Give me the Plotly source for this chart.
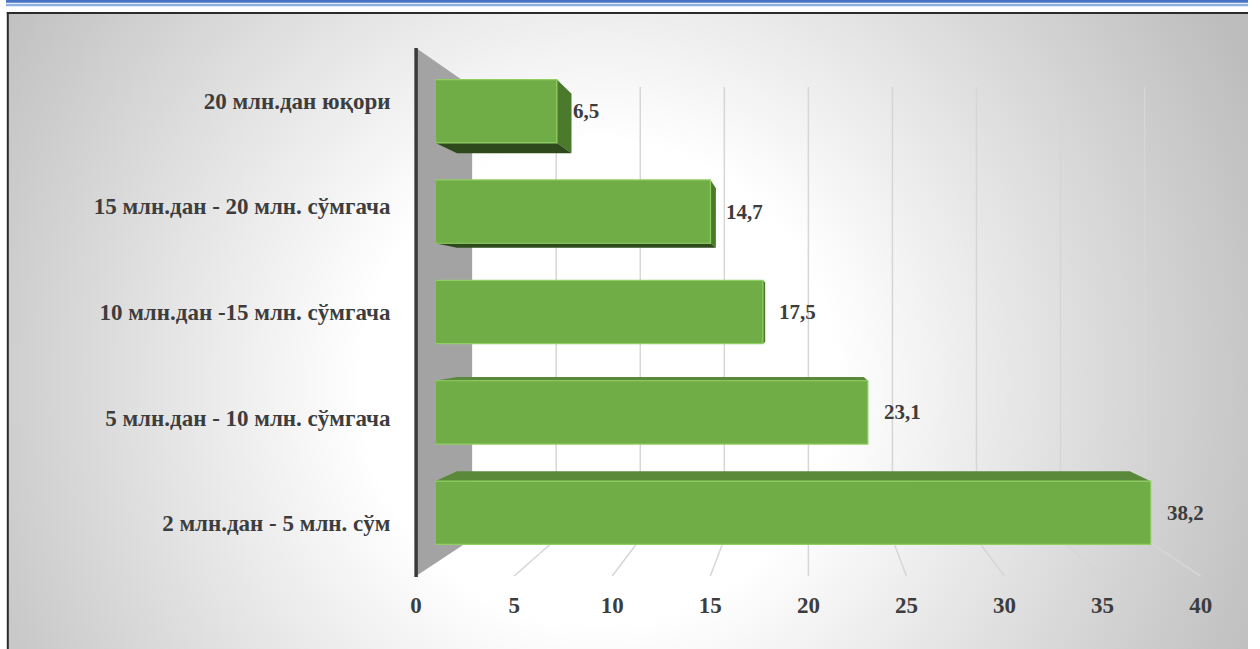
import base64
import plotly.graph_objects as go

# ---------------- data ----------------
categories = [
    "2 млн.дан - 5 млн. сўм",
    "5 млн.дан - 10 млн. сўмгача",
    "10 млн.дан -15 млн. сўмгача",
    "15 млн.дан - 20 млн. сўмгача",
    "20 млн.дан юқори",
]
values = [38.2, 23.1, 17.5, 14.7, 6.5]
value_labels = ["38,2", "23,1", "17,5", "14,7", "6,5"]
x_ticks = [0, 5, 10, 15, 20, 25, 30, 35, 40]

# ---------------- geometry (reference pixels) ----------------
W, H = 1260, 649
BAR_X0, BAR_SCALE = 435.0, 18.72          # bar front-face axis
BAR_Y_TOP, BAR_Y_BOT = 61.0, 563.0
FLOOR_X0, FLOOR_X1 = 416.0, 1200.0         # front floor axis
FLOOR_Y_TOP, FLOOR_Y_BOT = 48.0, 576.0
BACK_X0, BACK_SCALE = 472.0, 16.8          # back wall
BACK_Y_TOP, BACK_Y_BOT = 87.0, 539.0
VPX, VPY, DEPTH = 800.0, 317.0, 0.94
BAR_W = 0.63
XMAX = 40
# the photographed page comes out slightly narrowed horizontally; compensate
HX_SCALE, HX_OFF = 0.985, 6.2

def pxx(x):
    return ((x - HX_OFF) / HX_SCALE) / W

def pxy(y):
    return 1 - y / H

TXT = "#3d3d3d"
FONT = "Liberation Serif"

# background gradient (svg)
bw, bh = W, H - 13
svg = f"""<svg xmlns='http://www.w3.org/2000/svg' width='{bw}' height='{bh}'>
<defs><radialGradient id='g' gradientUnits='userSpaceOnUse' cx='600' cy='370' r='730'>
<stop offset='0' stop-color='#ffffff'/><stop offset='0.33' stop-color='#ffffff'/>
<stop offset='1' stop-color='#bdbdbd'/></radialGradient></defs>
<rect width='{bw}' height='{bh}' fill='url(#g)'/></svg>"""
svg_uri = "data:image/svg+xml;base64," + base64.b64encode(svg.encode()).decode()

fig = go.Figure()

# bar front faces
fig.add_trace(go.Bar(
    x=values, y=categories, orientation="h", width=BAR_W,
    marker=dict(color="#70ad47", line=dict(color="#8fcf62", width=1.2)),
    hoverinfo="skip", xaxis="x", yaxis="y",
))
# invisible trace for the front (labelled) axes
fig.add_trace(go.Scatter(
    x=values, y=categories, mode="markers", marker=dict(opacity=0),
    hoverinfo="skip", xaxis="x2", yaxis="y2", showlegend=False,
))

shapes = []
# top blue lines
shapes.append(dict(type="rect", xref="paper", yref="paper", x0=0, x1=1,
                   y0=pxy(2.8), y1=1, fillcolor="#4674c6", line=dict(width=0), layer="above"))
shapes.append(dict(type="rect", xref="paper", yref="paper", x0=0, x1=1,
                   y0=pxy(6.3), y1=pxy(3.8), fillcolor="#8fb0e2", line=dict(width=0), layer="above"))
# frame (left and top edges; the others are outside the picture)
shapes.append(dict(type="line", xref="paper", yref="paper", x0=pxx(8), x1=pxx(8),
                   y0=0, y1=pxy(12), line=dict(color="#2b2b2b", width=2), layer="above"))
shapes.append(dict(type="line", xref="paper", yref="paper", x0=pxx(7), x1=1,
                   y0=pxy(13), y1=pxy(13), line=dict(color="#2b2b2b", width=2), layer="above"))

# gridlines on back wall and floor
for v in x_ticks[1:]:
    bx = BACK_X0 + BACK_SCALE * v
    fx = FLOOR_X0 + (FLOOR_X1 - FLOOR_X0) * v / XMAX
    shapes.append(dict(type="line", xref="paper", yref="paper",
                       x0=pxx(bx), x1=pxx(bx), y0=pxy(BACK_Y_TOP), y1=pxy(BACK_Y_BOT),
                       line=dict(color="#d6d6d6", width=1.5), layer="below"))
    shapes.append(dict(type="line", xref="paper", yref="paper",
                       x0=pxx(fx), x1=pxx(bx), y0=pxy(FLOOR_Y_BOT), y1=pxy(BACK_Y_BOT),
                       line=dict(color="#d6d6d6", width=1.5), layer="below"))
# left wall
wall = (f"M {pxx(FLOOR_X0)} {pxy(FLOOR_Y_TOP)} L {pxx(BACK_X0)} {pxy(BACK_Y_TOP)} "
        f"L {pxx(BACK_X0)} {pxy(BACK_Y_BOT)} L {pxx(FLOOR_X0)} {pxy(FLOOR_Y_BOT)} Z")
shapes.append(dict(type="path", xref="paper", yref="paper", path=wall,
                   fillcolor="#a3a3a3", line=dict(width=0), layer="below"))
shapes.append(dict(type="line", xref="paper", yref="paper",
                   x0=pxx(FLOOR_X0), x1=pxx(FLOOR_X0), y0=pxy(FLOOR_Y_TOP), y1=pxy(FLOOR_Y_BOT + 1),
                   line=dict(color="#3a3a3a", width=3.5), layer="below"))

# 3D faces of the bars, projected from the data values
slot = (BAR_Y_BOT - BAR_Y_TOP) / len(categories)

def to_data(xp, yp):
    return (xp - BAR_X0) / BAR_SCALE, (BAR_Y_BOT - yp) / slot - 0.5

def back(xp, yp):
    return VPX + (xp - VPX) * DEPTH, VPY + (yp - VPY) * DEPTH

def face(pts, color):
    d = []
    for i, (xp, yp) in enumerate(pts):
        xd, yd = to_data(xp, yp)
        d.append(("M" if i == 0 else "L") + f" {xd:.4f} {yd:.4f}")
    return dict(type="path", xref="x", yref="y", path=" ".join(d) + " Z",
                fillcolor=color, line=dict(width=0), layer="below")

for i, v in enumerate(values):
    yc = BAR_Y_BOT - (i + 0.5) * slot
    xl, xr = BAR_X0, BAR_X0 + BAR_SCALE * v
    yt, yb = yc - BAR_W * slot / 2, yc + BAR_W * slot / 2
    if xr < VPX:   # right side
        shapes.append(face([(xr, yt), (xr, yb), back(xr, yb), back(xr, yt)], "#4b7a2c"))
    if yt > VPY:   # top face
        shapes.append(face([(xl, yt), (xr, yt), back(xr, yt), back(xl, yt)], "#5a8a39"))
    if yb < VPY:   # bottom face
        shapes.append(face([(xl, yb), (xr, yb), back(xr, yb), back(xl, yb)], "#2e4a1d"))

annotations = []
for c, v, t in zip(categories, values, value_labels):
    annotations.append(dict(x=v, y=c, xref="x", yref="y", text=t, showarrow=False,
                            xanchor="left", yanchor="middle", xshift=14,
                            font=dict(family=FONT, size=21, color=TXT, weight="bold")))

fig.update_layout(
    width=W, height=H, autosize=False,
    margin=dict(l=0, r=0, t=0, b=0, pad=0),
    paper_bgcolor="white", plot_bgcolor="rgba(0,0,0,0)",
    showlegend=False,
    shapes=shapes, annotations=annotations,
    images=[dict(source=svg_uri, xref="paper", yref="paper", x=pxx(8), y=pxy(13),
                 sizex=1 - pxx(8), sizey=bh / H, xanchor="left", yanchor="top",
                 sizing="stretch", layer="below")],
    xaxis=dict(domain=[pxx(BAR_X0), pxx(BAR_X0 + BAR_SCALE * XMAX)], range=[0, XMAX],
               visible=False, anchor="y"),
    yaxis=dict(domain=[pxy(BAR_Y_BOT), pxy(BAR_Y_TOP)], type="category",
               categoryorder="array", categoryarray=categories, range=[-0.5, 4.5],
               visible=False, anchor="x"),
    xaxis2=dict(domain=[pxx(FLOOR_X0), pxx(FLOOR_X1)], range=[0, XMAX], anchor="y2",
                tickvals=x_ticks, ticktext=[str(t) for t in x_ticks],
                showgrid=False, zeroline=False, showline=False,
                ticks="outside", ticklen=8, tickcolor="rgba(0,0,0,0)",
                tickfont=dict(family=FONT, size=23, color=TXT, weight="bold")),
    yaxis2=dict(domain=[pxy(FLOOR_Y_BOT), pxy(FLOOR_Y_TOP)], type="category",
                categoryorder="array", categoryarray=categories, range=[-0.5, 4.5],
                anchor="x2", showgrid=False, zeroline=False, showline=False,
                ticks="outside", ticklen=20, tickcolor="rgba(0,0,0,0)",
                tickfont=dict(family=FONT, size=23, color=TXT, weight="bold")),
)

post = (
    "document.documentElement.style.margin='0';"
    "document.body.style.margin='0';"
    "document.documentElement.style.overflow='hidden';"
    "document.body.style.overflow='hidden';"
)
fig.write_html("out.html", config={"responsive": False, "displayModeBar": False},
               post_script=post)
